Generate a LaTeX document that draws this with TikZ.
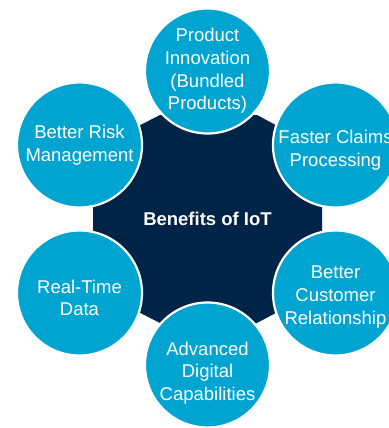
\documentclass[tikz,border=0pt]{standalone}
\usepackage{fontspec}
\setmainfont{Liberation Sans}
\definecolor{navy}{RGB}{0,35,72}
\definecolor{cyanb}{RGB}{0,164,208}
\begin{document}
\begin{tikzpicture}[x=1bp,y=-1bp,
  benefit/.style={circle,fill=cyanb,draw=white,line width=2.2bp,minimum size=125bp,inner sep=0pt},
  btext/.style={text=white,align=center,inner sep=0pt,font=\fontsize{18.5bp}{22.6bp}\selectfont},
  hub/.style={fill=navy}]
\useasboundingbox (0,0) rectangle (389,428);
\clip (0,0) rectangle (389,428);
\fill[hub] (160,115) -- (257,115) -- (300,138) -- (322,185) -- (322,253) -- (300,300)
  -- (257,323) -- (160,323) -- (115,300) -- (93,253) -- (93,185) -- (115,138) -- cycle;
\node[text=white,font=\fontsize{18.5bp}{22.6bp}\selectfont\bfseries] (hubtext) at (207.5,219) {Benefits of IoT};
\node[benefit] (prod) at (207.5,71) {};
\node[benefit] (claims) at (335.5,145) {};
\node[benefit] (cust) at (335.5,293) {};
\node[benefit] (digital) at (207.5,365) {};
\node[benefit] (realtime) at (79.5,293) {};
\node[benefit] (risk) at (79.5,145) {};
\node[btext] (prodt) at ([yshift=0bp]prod.center) {Product\\Innovation\\(Bundled\\Products)};
\node[btext] (claimst) at ([yshift=-5bp]claims.center) {Faster Claims\\Processing};
\node[btext] (custt) at ([yshift=-4bp]cust.center) {Better\\Customer\\Relationship};
\node[btext] (digitalt) at ([yshift=-8bp]digital.center) {Advanced\\Digital\\Capabilities};
\node[btext] (realtimet) at ([yshift=-5bp]realtime.center) {Real-Time\\Data};
\node[btext] (riskt) at (risk.center) {Better Risk\\Management};
\end{tikzpicture}
\end{document}
